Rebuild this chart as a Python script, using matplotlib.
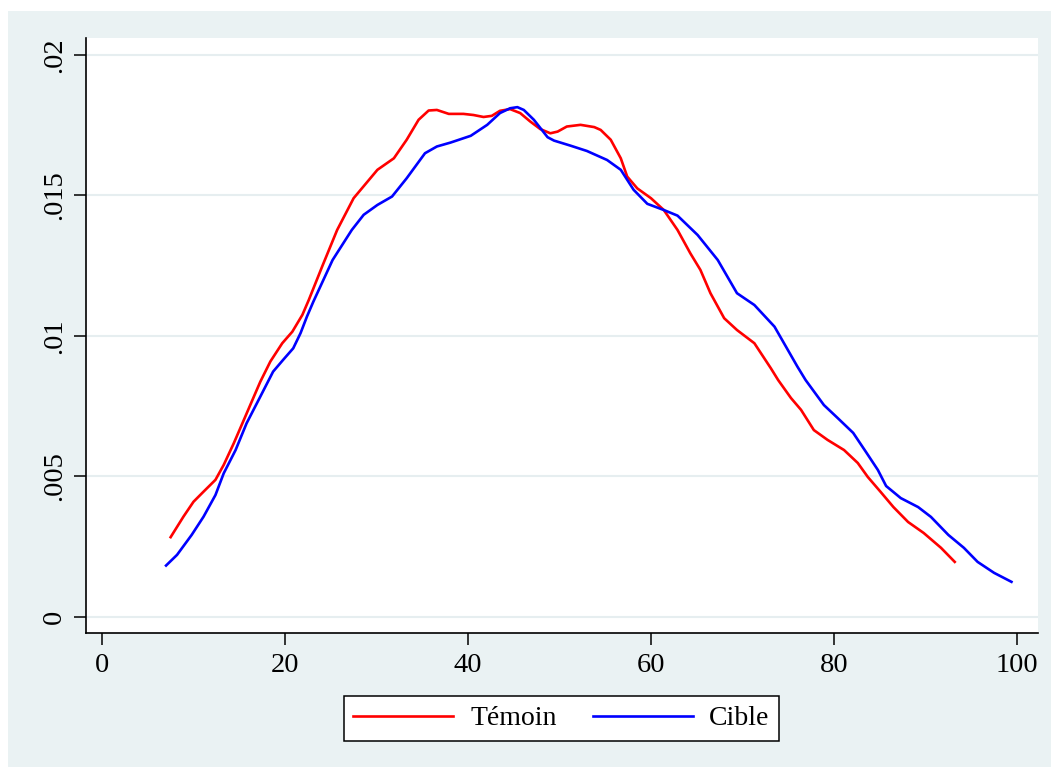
import matplotlib
matplotlib.use("Agg")
import matplotlib.pyplot as plt
from matplotlib.patches import Rectangle

# Témoin (red)
temoin_x = [7.5, 8.9, 10.0, 11.1, 12.4, 13.3, 14.4, 15.5, 16.2, 17.3, 18.4, 19.7, 20.8, 21.9, 22.6,
            24.1, 25.7, 27.5, 30.1, 31.9, 33.3, 34.6, 35.7, 36.6, 37.9, 39.5, 40.6, 41.7, 42.6,
            43.5, 44.6, 45.7, 46.8, 47.9, 49.0, 49.8, 50.8, 52.3, 53.8, 54.5, 55.6, 56.7, 57.4,
            58.5, 60.0, 61.4, 62.9, 64.3, 65.4, 66.5, 68.0, 69.4, 71.3, 73.1, 73.9, 75.3, 76.4,
            77.8, 79.3, 81.1, 82.6, 83.7, 85.1, 86.5, 88.1, 89.8, 91.7, 93.2]
temoin_y = [0.00284, 0.00357, 0.00410, 0.00446, 0.00488, 0.00541, 0.00618, 0.00701, 0.00754, 0.00837,
            0.00909, 0.00974, 0.01015, 0.01075, 0.01128, 0.01250, 0.01377, 0.01490, 0.01591, 0.01632,
            0.01698, 0.01769, 0.01802, 0.01804, 0.01790, 0.01790, 0.01786, 0.01779, 0.01783, 0.01801,
            0.01807, 0.01793, 0.01763, 0.01736, 0.01721, 0.01727, 0.01745, 0.01751, 0.01743, 0.01733,
            0.01698, 0.01632, 0.01567, 0.01525, 0.01490, 0.01448, 0.01377, 0.01294, 0.01235, 0.01152,
            0.01063, 0.01021, 0.00974, 0.00885, 0.00843, 0.00779, 0.00737, 0.00665, 0.00630, 0.00594,
            0.00548, 0.00498, 0.00445, 0.00391, 0.00338, 0.00299, 0.00246, 0.00196]

# Cible (blue)
cible_x = [7.0, 8.2, 9.8, 11.1, 12.4, 13.3, 14.6, 15.8, 17.3, 18.7, 19.8, 20.9, 21.7, 22.4, 23.1,
           25.2, 27.3, 28.6, 30.1, 31.7, 33.3, 35.3, 36.6, 38.1, 40.3, 42.1, 43.5, 44.6, 45.4,
           46.1, 47.2, 48.7, 49.4, 51.2, 53.0, 55.2, 56.7, 58.1, 59.6, 61.4, 62.9, 65.1, 67.3,
           69.4, 71.3, 73.5, 76.0, 76.9, 78.9, 80.4, 82.1, 83.5, 84.8, 85.7, 87.3, 89.2, 90.6,
           92.5, 94.2, 95.7, 97.5, 99.4]
cible_y = [0.00183, 0.00221, 0.00292, 0.00357, 0.00434, 0.00511, 0.00594, 0.00689, 0.00784, 0.00873,
           0.00915, 0.00956, 0.01010, 0.01069, 0.01122, 0.01270, 0.01377, 0.01431, 0.01466, 0.01496,
           0.01561, 0.01650, 0.01674, 0.01688, 0.01712, 0.01751, 0.01793, 0.01810, 0.01814, 0.01804,
           0.01769, 0.01707, 0.01695, 0.01677, 0.01658, 0.01626, 0.01591, 0.01520, 0.01470, 0.01448,
           0.01428, 0.01359, 0.01270, 0.01152, 0.01110, 0.01033, 0.00891, 0.00843, 0.00754, 0.00708,
           0.00655, 0.00587, 0.00523, 0.00466, 0.00423, 0.00391, 0.00356, 0.00292, 0.00246, 0.00196,
           0.00157, 0.00125]

x_ticks = [0, 20, 40, 60, 80, 100]
x_ticklabels = ["0", "20", "40", "60", "80", "100"]
y_ticks = [0, 0.005, 0.01, 0.015, 0.02]
y_ticklabels = ["0", ".005", ".01", ".015", ".02"]
series_labels = ["Témoin", "Cible"]

plt.rcParams['font.family'] = ['Liberation Serif', 'DejaVu Serif']
bg = "#EAF2F3"
W, H = 1051, 769
fig = plt.figure(figsize=(W / 100, H / 100), dpi=100, facecolor="white")
fig.patches.append(Rectangle((8 / W, 2 / H), (W - 8) / W, (H - 13) / H,
                             transform=fig.transFigure, facecolor=bg, edgecolor="none", zorder=-10))

ax = fig.add_axes([86 / W, 1 - 633 / H, (1038 - 86) / W, (633 - 38) / H])
ax.set_facecolor("white")
l1, = ax.plot(temoin_x, temoin_y, color="#FF0000", lw=1.9, label=series_labels[0],
              solid_joinstyle="round")
l2, = ax.plot(cible_x, cible_y, color="#0000FF", lw=1.9, label=series_labels[1],
              solid_joinstyle="round")

ax.set_xlim(-1.75, 102.3)
ax.set_ylim(-0.00057, 0.0206)
ax.set_xticks(x_ticks)
ax.set_xticklabels(x_ticklabels)
ax.set_yticks(y_ticks)
ax.set_yticklabels(y_ticklabels, rotation=90, va="center")
for s in ["top", "right"]:
    ax.spines[s].set_visible(False)
for s in ["left", "bottom"]:
    ax.spines[s].set_linewidth(1.2)
    ax.spines[s].set_color("black")
ax.tick_params(axis="both", direction="out", length=8.5, width=1.1, labelsize=20.5, colors="black")
ax.tick_params(axis="x", pad=6)
ax.tick_params(axis="y", pad=5)
ax.yaxis.grid(True, color="#E6EEF0", lw=1.5)
ax.set_axisbelow(True)

leg = fig.legend(handles=[l1, l2], loc="center", bbox_to_anchor=(561.5 / W, 1 - 718.5 / H),
                 ncol=2, fontsize=20, frameon=True, fancybox=False, framealpha=1,
                 edgecolor="black", handlelength=3.6, handletextpad=0.6, columnspacing=1.3,
                 borderpad=0.35, borderaxespad=0)
leg.get_frame().set_linewidth(1.1)

fig.savefig("out.png", dpi=100, facecolor="white")
